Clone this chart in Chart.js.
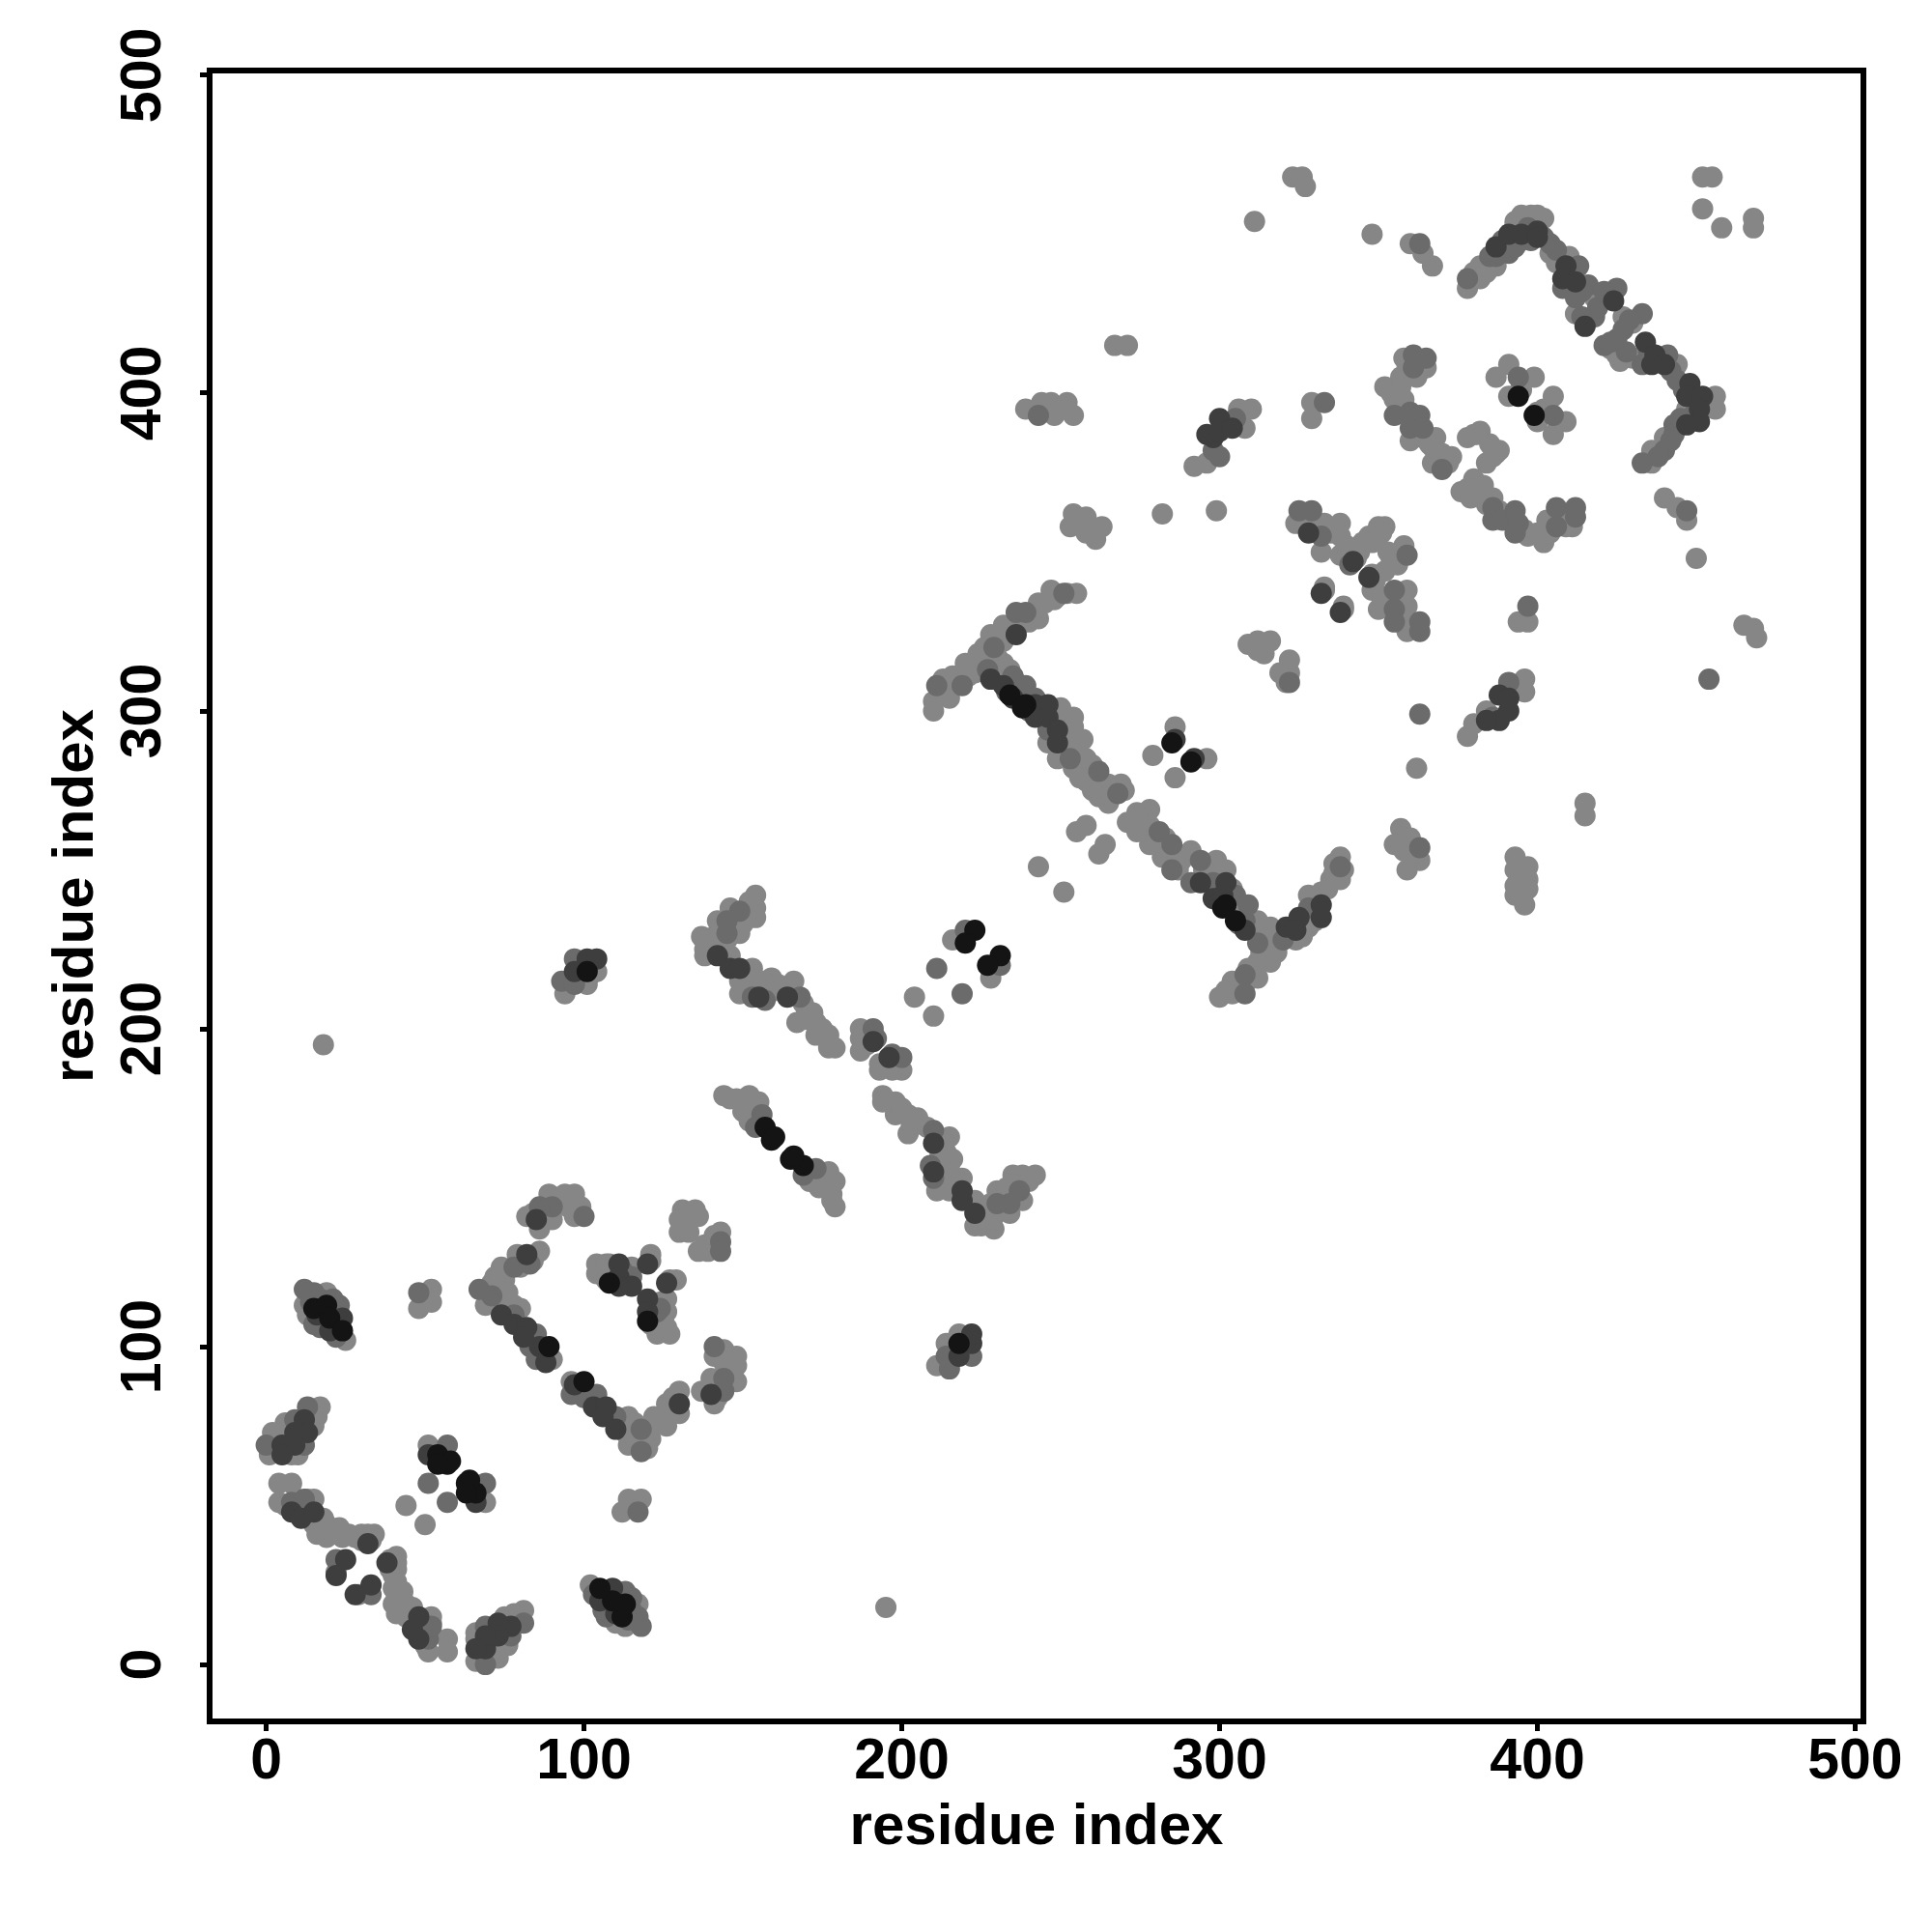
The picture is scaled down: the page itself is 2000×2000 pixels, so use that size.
<!DOCTYPE html>
<html>
<head>
<meta charset="utf-8">
<script src="https://cdn.jsdelivr.net/npm/chart.js@4/dist/chart.umd.min.js"></script>
<style>
html, body { margin: 0; padding: 0; background: #fff; }
canvas { display: block; }
</style>
</head>
<body>
<canvas id="myChart" width="2000" height="2000"></canvas>
<script>
// contacts as [residue, residue], one list per grey level
const blackPoints = [
  [54,66],[57,63],[58,64],[54,63],[66,54],[63,57],[64,58],[63,54],
  [15,112],[19,113],[20,109],[24,105],[112,15],[113,19],[109,20],[105,24],
  [89,100],[100,89],[120,108],[108,120],[101,218],[218,101],
  [157,169],[159,165],[160,166],[169,157],[165,159],[166,160],
  [223,231],[220,227],[231,223],[227,220],[239,302],[301,238],[305,234],[302,239],[234,305],[238,301],
  [285,290],[291,284],[394,399],[399,393]
];
const darkPoints = [
  [5,69],[69,5],
  [12,77],[13,73],[9,73],[9,69],[5,66],[77,12],[73,13],[73,9],[69,9],[66,5],
  [8,48],[11,46],[15,48],[32,38],[48,8],[46,11],[48,15],[38,32],[25,33],[22,28],[33,25],[28,22],
  [51,66],[66,51],[16,110],[24,109],[20,105],[110,16],[109,24],[105,20],
  [82,129],[74,110],[78,107],[82,106],[81,103],[86,100],[88,95],
  [97,88],[103,81],[107,81],[106,78],[110,74],[130,82],
  [85,140],[140,85],[111,126],[111,122],[115,119],[111,119],[120,126],
  [120,115],[120,111],[126,120],[101,222],[104,222],[97,218],[222,101],[222,104],[218,97],
  [142,223],[146,219],[149,219],[155,210],[164,210],[223,142],[219,146],[219,149],[210,155],[210,164],
  [191,196],[196,191],[236,324],[228,310],[232,308],[235,304],[242,302],[246,302],[242,298],[246,298],[249,294],[249,290],
  [294,246],[302,246],[298,241],[301,242],[308,231],[321,232],[325,235],[324,231],[332,235],[332,239],
  [286,291],[292,285],[298,386],[296,387],[300,392],[300,388],[304,389],[388,297],[388,305],[391,300],[384,297],[391,304],
  [387,446],[391,450],[395,450],[400,451],[400,449],[409,440],[408,436],[412,435],[424,429],[415,421],
  [434,416],[437,412],[436,409],[440,409],[448,403],[447,399],[452,399],[451,395],[451,391],[447,390],
  [328,356],[342,347],[347,342],[332,337],[338,331]
];
const midPoints = [
  [13,81],[9,77],[12,69],[0,69],[81,13],[77,9],[69,12],[69,0],[8,51],[12,52],[51,8],[52,12],
  [22,33],[33,22],[57,69],[51,57],[69,57],[57,51],[48,117],[117,48],[15,117],[23,113],[17,106],[12,118],[117,15],[113,23],[106,17],[118,12],
  [14,114],[17,115],[21,115],[15,107],[22,103],[19,106],[114,14],[115,17],[115,21],[107,15],[103,22],[106,19],[16,113],[113,16],
  [67,118],[71,116],[78,125],[83,126],[78,110],[85,104],[83,100],[85,96],
  [96,85],[100,84],[104,85],[110,78],[118,67],[118,74],
  [90,144],[86,144],[100,141],[144,90],[144,86],[141,100],[115,122],[123,111],[143,133],[143,130],[112,124],[124,112],
  [97,222],[93,215],[97,214],[222,97],[215,93],[214,97],
  [149,237],[145,234],[145,230],[153,210],[157,209],[168,210],[237,149],[234,145],[230,145],[210,153],[209,157],[210,168],
  [191,200],[200,191],[192,197],[197,192],[156,173],[154,169],[173,156],[169,154],[220,231],[211,219],[231,220],[219,211],
  [211,308],[219,308],[229,320],[236,331],[239,331],[251,337],
  [227,313],[235,311],[239,308],[242,304],[246,294],[253,285],[262,281],[268,274],[240,300],[233,306],
  [281,262],[285,258],[285,250],[294,253],[291,246],[298,246],[305,242],[309,239],[308,234],[312,227],[308,217],[308,211],[300,240],[306,233],
  [328,238],[338,251],[320,228],[322,309],[333,397],[397,333],
  [298,382],[305,392],[300,380],[391,309],[386,298],[243,393],[363,257],
  [378,436],[387,443],[391,444],[404,447],[413,440],[408,433],[416,434],[412,430],[425,433],[418,424],
  [385,443],[389,448],[393,446],[397,452],[398,448],[402,449],[406,445],[410,438],[411,437],[414,432],[419,427],[421,432],[414,424],
  [433,425],[429,423],[425,417],[421,415],[433,409],[441,412],[444,404],[443,390],[443,387],[440,382],[433,378],
  [427,420],[423,416],[428,413],[435,413],[439,410],[442,407],[446,401],[449,393],[445,392],[442,385],[438,380],
  [365,411],[361,412],[361,408],[355,393],[360,394],[363,393],[360,389],[364,389],[370,376],
  [386,364],[386,360],[389,360],[393,363],[394,359],[393,356],[406,358],[406,364],[412,364],[412,361],
  [394,405],[405,393],[325,363],[329,363],[332,355],[341,346],[359,349],[355,338],[355,332],[355,328],[363,328],[363,325],
  [447,363],[454,310],[363,299],[363,447]
];
const lightPoints = [
  [17,81],[16,78],[6,76],[2,73],[1,66],[8,66],[81,17],[78,16],[76,6],[73,2],[66,1],[66,8],
  [3,69],[6,68],[10,66],[4,72],[8,74],[14,76],[15,75],[69,3],[68,6],[66,10],[72,4],[74,8],[76,14],[75,15],
  [4,57],[8,57],[4,51],[15,52],[15,44],[19,44],[23,43],[16,41],[19,40],[24,40],[30,41],[34,41],[30,39],
  [57,4],[57,8],[51,4],[52,15],[44,15],[44,19],[43,23],[41,16],[40,19],[40,24],[41,30],[41,34],[39,30],
  [6,50],[10,52],[13,52],[17,43],[21,41],[18,46],[26,41],[28,40],[32,41],[50,6],[52,10],[52,13],[43,17],[41,21],[46,18],[41,26],[40,28],[41,32],[33,39],[39,33],
  [22,29],[29,22],[51,69],[44,50],[69,51],[50,44],[52,118],[48,112],[52,114],[118,52],[112,48],[114,52],
  [19,117],[12,113],[13,110],[25,102],[117,19],[113,12],[110,13],[102,25],
  [71,120],[75,121],[74,125],[79,129],[86,130],[69,113],[73,113],[78,113],[90,96],
  [72,118],[76,117],[72,122],[80,125],[84,127],[75,115],[80,112],[88,98],
  [96,89],[114,78],[114,69],[121,71],[122,78],[126,75],[126,82],[130,86],[130,79],[118,70],[113,73],
  [98,86],[116,72],[116,76],[120,73],[124,78],[128,80],[128,84],[120,68],
  [82,141],[86,137],[90,140],[89,148],[94,148],[97,148],[99,144],[97,141],[84,142],[88,142],[92,146],[95,144],[99,142],
  [141,82],[137,86],[140,90],[148,89],[148,94],[148,97],[144,99],[141,97],[142,84],[142,88],[146,92],[144,95],[142,99],
  [104,126],[104,123],[107,126],[115,125],[121,129],[126,115],[126,111],[126,106],[123,104],[127,104],[129,121],
  [106,123],[108,126],[113,123],[113,120],[123,108],[124,106],[122,112],[125,108],[124,114],
  [121,107],[107,121],[121,114],[114,121],[121,127],[127,121],
  [131,143],[135,143],[130,140],[133,141],[130,136],[143,136],[139,130],[136,130],[141,133],
  [132,138],[133,136],[136,141],[132,141],[141,131],[138,132],[141,135],
  [104,218],[101,214],[94,211],[218,104],[214,101],[211,94],[102,217],[217,102],
  [154,242],[154,238],[154,235],[146,238],[142,234],[149,230],[137,229],[141,229],[145,228],[138,225],[138,223],[146,223],[153,219],
  [149,215],[149,211],[157,215],[159,216],[163,212],[166,215],[170,206],[167,202],[173,202],[173,198],[177,198],[179,194],[177,194],
  [140,228],[143,231],[147,235],[151,236],[150,233],[152,240],[140,225],[143,226],[151,216],[155,213],[160,212],[161,214],[164,213],[169,208],[170,203],[175,200],[172,205],
  [242,154],[238,154],[235,154],[238,146],[234,142],[230,149],[229,137],[229,141],[228,145],[225,138],[223,138],[223,146],[219,153],
  [215,149],[211,149],[215,157],[216,159],[212,163],[215,166],[206,170],[202,167],[202,173],[198,173],[198,177],[194,179],[194,177],
  [228,140],[231,143],[235,147],[236,151],[233,150],[240,152],[225,140],[226,143],[216,151],[213,155],[212,160],[214,161],[213,164],[208,169],[203,170],[200,175],[205,172],
  [187,200],[187,197],[187,193],[200,187],[197,187],[193,187],[188,198],[189,195],[193,189],[198,189],
  [144,179],[148,178],[152,179],[155,177],[150,174],[179,144],[178,148],[179,152],[177,155],[174,150],
  [146,178],[153,174],[152,171],[178,146],[174,153],[171,152],
  [216,228],[204,210],[228,216],[210,204],[18,195],[195,18],
  [210,300],[210,303],[215,304],[216,311],[220,315],[223,312],[224,318],[228,324],[232,327],[232,322],[240,328],[243,329],[243,334],[247,338],[255,337],[248,335],
  [212,305],[218,309],[221,311],[226,316],[226,320],[230,323],[234,325],[238,328],[241,331],[245,334],[249,336],[252,337],[213,310],
  [232,315],[250,301],[254,298],[254,295],[246,290],[257,291],[249,285],[258,285],[254,282],[258,282],[258,278],[262,273],[265,277],[269,277],[265,271],
  [244,300],[248,296],[252,292],[255,288],[251,288],[260,283],[256,279],[263,276],[260,275],[266,273],[270,275],[234,313],[230,317],[236,309],
  [278,269],[274,268],[271,265],[274,262],[278,264],[278,258],[282,254],[291,256],[299,253],[302,250],[312,234],[316,232],[317,225],[316,221],[312,221],[309,219],[312,216],[304,215],[300,210],[304,211],
  [276,266],[280,260],[284,256],[288,253],[287,250],[295,250],[300,248],[304,244],[306,238],[310,232],[314,228],[313,224],[310,219],[306,214],[302,212],[308,214],[283,260],[275,265],
  [324,228],[328,232],[328,242],[332,243],[335,247],[338,247],[338,254],
  [322,230],[326,229],[330,234],[330,240],[334,244],[336,249],[339,250],[336,252],[318,224],[315,226],
  [286,295],[279,286],[296,285],[286,279],[255,262],[258,264],[243,251],[262,255],[264,258],[251,243],
  [309,321],[312,322],[316,322],[312,319],[314,318],[321,309],[322,312],[322,316],[319,312],
  [323,468],[326,468],[327,465],[348,450],[360,447],[364,444],[367,440],[311,454],
  [440,367],[444,364],[447,360],[450,348],[465,327],[468,326],[469,323],
  [452,468],[455,468],[452,458],[468,452],[468,455],[458,452],
  [267,415],[271,415],[415,271],[415,267],[299,363],[282,362],[362,282],
  [329,397],[329,392],[394,328],[397,328],
  [239,395],[244,397],[247,397],[252,397],[254,393],[248,393],
  [393,254],[397,251],[393,250],[397,247],[393,245],[396,239],[393,242],[397,244],
  [254,362],[258,361],[253,358],[260,357],[263,358],[258,356],[261,354],
  [357,263],[355,258],[360,260],[358,256],[363,253],[359,250],[360,255],
  [292,377],[296,378],[308,389],[310,395],[306,395],[378,292],[384,300],[396,310],[396,306],[380,296],
  [378,433],[382,436],[382,440],[387,440],[395,448],[395,456],[400,456],[404,444],[410,443],[420,430],[412,425],[416,423],
  [397,455],[393,454],[398,456],[402,455],[380,438],[384,438],[393,453],[397,451],[406,441],[418,430],
  [425,412],[430,422],[430,411],[444,409],[456,399],[456,395],[447,395],[440,386],[436,382],[436,378],[427,424],[423,414],[426,410],
  [358,411],[365,408],[357,405],[352,402],[357,402],[355,398],[360,385],[364,386],[368,386],[367,383],[368,379],[373,380],[367,378],[378,386],[382,388],[380,387],
  [388,382],[384,378],[386,380],[376,369],[380,373],[381,370],[379,367],[386,367],[397,355],[402,353],[403,360],[411,358],
  [359,408],[362,405],[354,400],[358,398],[356,395],[362,387],[366,384],[370,381],[372,378],[378,370],[383,368],[384,365],[388,363],[391,361],[396,357],[400,356],[404,356],[408,362],[409,358],[363,410],[363,407],[383,371],[385,384],[387,381],[381,387],
  [391,409],[387,405],[399,405],[395,403],[391,399],[395,401],[394,400],[405,399],[402,395],[401,394],[400,394],[409,391],[400,391],[405,387],
  [324,359],[333,359],[332,350],[338,359],[338,355],[338,349],[342,351],[347,355],[350,358],[352,358],[345,353],
  [326,360],[330,357],[335,356],[340,352],[340,348],[344,350],[348,353],[351,356],[329,357],[357,329],[343,348],[348,343],
  [358,352],[354,348],[352,344],[348,338],[359,338],[350,332],[359,333],[359,325],[333,339],[339,333],[333,338],[339,332],
  [353,350],[356,346],[349,341],[351,336],[353,334],[357,336],[357,330],[361,327]
];
const greys = ['#141414', '#3e3e3e', '#6b6b6b', '#868686'];
const tickValues = [0, 100, 200, 300, 400, 500];
const axisLabel = 'residue index';

const tickFont = { family: '"Liberation Sans", Arial, sans-serif', size: 59, weight: 'bold' };
const titleFont = { family: '"Liberation Sans", Arial, sans-serif', size: 60, weight: 'bold' };

// R style box all round the plot
const boxPlugin = {
    id: 'box',
    afterDraw(chart) {
        const a = chart.chartArea;
        const c = chart.ctx;
        c.save();
        c.strokeStyle = '#000';
        c.lineWidth = 6;
        c.strokeRect(a.left, a.top, a.right - a.left, a.bottom - a.top);
        c.restore();
    }
};

function series(points, colour) {
    return {
        data: points.map(p => ({ x: p[0], y: p[1] })),
        backgroundColor: colour,
        borderWidth: 0,
        pointRadius: 11,
        showLine: false
    };
}

function setTicks(scale) {
    scale.ticks = tickValues.map(v => ({ value: v }));
}

const ctx = document.getElementById('myChart').getContext('2d');
const myChart = new Chart(ctx, {
    type: 'scatter',
    data: {
        // last dataset is painted on top
        datasets: [
            series(blackPoints, greys[0]),
            series(darkPoints, greys[1]),
            series(midPoints, greys[2]),
            series(lightPoints, greys[3])
        ]
    },
    options: {
        responsive: false,
        animation: false,
        layout: { padding: { left: 0, right: 71, top: 73, bottom: 0 } },
        plugins: { legend: { display: false }, tooltip: { enabled: false } },
        scales: {
            x: {
                type: 'linear',
                min: -17.8,
                max: 502.6,
                afterBuildTicks: setTicks,
                afterFit(scale) { scale.height = 218; },
                border: { display: false },
                grid: { drawOnChartArea: false, tickLength: 10, tickWidth: 5, tickColor: '#000' },
                ticks: { color: '#000', font: tickFont, padding: -3, maxRotation: 0, minRotation: 0, autoSkip: false },
                title: { display: true, text: axisLabel, color: '#000', font: titleFont, padding: { top: 0, bottom: 72 } }
            },
            y: {
                type: 'linear',
                min: -17.9,
                max: 501.5,
                afterBuildTicks: setTicks,
                afterFit(scale) { scale.width = 217; },
                border: { display: false },
                grid: { drawOnChartArea: false, tickLength: 10, tickWidth: 5, tickColor: '#000' },
                ticks: { color: '#000', font: tickFont, padding: 8, minRotation: 90, maxRotation: 90, crossAlign: 'center', autoSkip: false },
                title: { display: true, text: axisLabel, color: '#000', font: titleFont, padding: { top: 43, bottom: 0 } }
            }
        }
    },
    plugins: [boxPlugin]
});
</script>
</body>
</html>
